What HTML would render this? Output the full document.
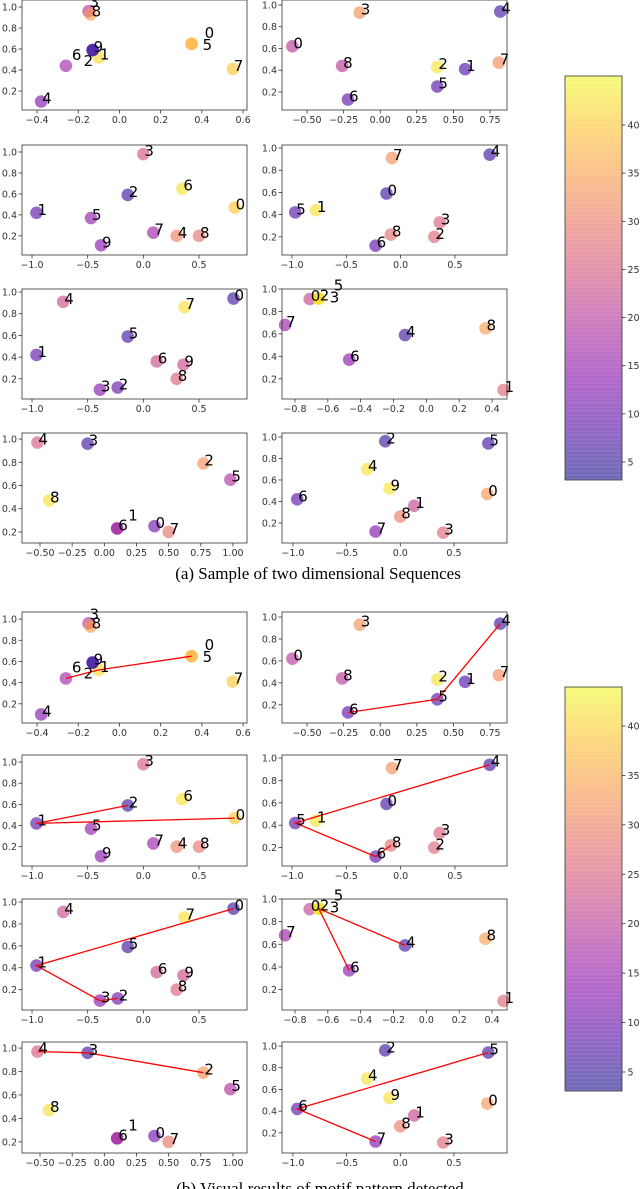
<!DOCTYPE html>
<html><head><meta charset="utf-8">
<style>
html,body{margin:0;padding:0;background:#fff;}
svg{display:block;}
.tk{font-family:"DejaVu Sans","Liberation Sans",sans-serif;font-size:9.5px;fill:#333;}
.pl{font-family:"DejaVu Sans","Liberation Sans",sans-serif;font-size:15px;fill:#000;}
.cap{font-family:"Liberation Serif",serif;font-size:17px;fill:#000;}
</style></head>
<body>
<svg id="fig" width="640" height="1189" viewBox="0 0 640 1189" xmlns="http://www.w3.org/2000/svg">
<defs>
<linearGradient id="plasma" x1="0" y1="1" x2="0" y2="0">
<stop offset="0" stop-color="#0d0887"/><stop offset="0.13" stop-color="#4c02a1"/>
<stop offset="0.25" stop-color="#7e03a8"/><stop offset="0.38" stop-color="#a82296"/>
<stop offset="0.5" stop-color="#cc4778"/><stop offset="0.63" stop-color="#e66c5c"/>
<stop offset="0.75" stop-color="#f89540"/><stop offset="0.88" stop-color="#fdc328"/>
<stop offset="1" stop-color="#f0f921"/>
</linearGradient>
</defs>
<text class="cap" x="318" y="579" text-anchor="middle">(a) Sample of two dimensional Sequences</text>
<text class="cap" x="320" y="1194" text-anchor="middle">(b) Visual results of motif pattern detected</text>
</svg>
<script>
// ---- data ----
const panelX = [
  [0.35,-0.10,-0.13,-0.15,-0.38,0.35,-0.26,0.55,-0.14,-0.13],
  [-0.60,0.58,0.39,-0.14,0.82,0.39,-0.22,0.81,-0.26],
  [0.82,-0.96,-0.14,0.00,0.30,-0.47,0.35,0.09,0.50,-0.38],
  [-0.13,-0.78,0.31,0.36,0.82,-0.97,-0.23,-0.08,-0.09],
  [0.81,-0.96,-0.23,-0.39,-0.72,-0.14,0.12,0.37,0.30,0.36],
  [-0.71,0.47,-0.655,-0.655,-0.13,-0.655,-0.47,-0.86,0.36],
  [0.39,0.10,0.77,-0.13,-0.52,0.98,0.10,0.50,-0.43],
  [0.81,0.13,-0.14,0.40,-0.31,0.82,-0.96,-0.23,0.00,-0.10]
];
const panelY = [
  [0.65,0.52,0.59,0.96,0.10,0.65,0.44,0.41,0.93,0.59],
  [0.62,0.41,0.43,0.93,0.94,0.25,0.13,0.47,0.44],
  [0.47,0.42,0.59,0.98,0.20,0.37,0.65,0.23,0.20,0.11],
  [0.59,0.44,0.20,0.33,0.94,0.42,0.12,0.91,0.22],
  [0.94,0.42,0.12,0.10,0.91,0.59,0.36,0.86,0.20,0.33],
  [0.91,0.10,0.915,0.915,0.59,0.915,0.37,0.68,0.65],
  [0.25,0.23,0.79,0.96,0.97,0.65,0.23,0.20,0.47],
  [0.47,0.36,0.96,0.11,0.70,0.94,0.42,0.12,0.26,0.52]
];
const panelVal = [
  [38,42,6,20,13,38,17,40,35,6],
  [20,7,43,33,6,8,9,32,20],
  [40,9,6,25,31,15,43,16,29,14],
  [6,43,27,26,6,8,9,33,28],
  [6,9,10,13,23,6,23,43,26,23],
  [22,27,43,43,6,43,14,16,35],
  [11,17,33,6,25,19,17,29,43],
  [34,22,6,27,43,6,9,12,30,43]
];
const panelLabels = [
  ["0","1","2","3","4","5","6","7","8","9"],
  ["0","1","2","3","4","5","6","7","8"],
  ["0","1","2","3","4","5","6","7","8","9"],
  ["0","1","2","3","4","5","6","7","8"],
  ["0","1","2","3","4","5","6","7","8","9"],
  ["0","1","2","3","4","5","6","7","8"],
  ["0","1","2","3","4","5","6","7","8"],
  ["0","1","2","3","4","5","6","7","8","9"]
];
const motifPaths = [[6,1,0],[6,5,4],[2,1,0],[8,6,5,4],[2,3,1,0],[6,2,4],[4,3,2],[7,6,5]];
const xTickVals = [
  [-0.4,-0.2,0,0.2,0.4,0.6],[-0.5,-0.25,0,0.25,0.5,0.75],[-1,-0.5,0,0.5],[-1,-0.5,0,0.5],
  [-1,-0.5,0,0.5],[-0.8,-0.6,-0.4,-0.2,0,0.2,0.4],[-0.5,-0.25,0,0.25,0.5,0.75,1],[-1,-0.5,0,0.5]
];
const xTickDecimals = [1,2,1,1,1,1,2,1];
const yTickVals = [0.2,0.4,0.6,0.8,1.0];
const cbTickVals = [5,10,15,20,25,30,35,40];
// axis limits per panel
const xLims = [[-0.473,0.619],[-0.671,0.866],[-1.09,0.931],[-1.092,0.979],[-1.09,0.931],[-0.879,0.491],[-0.64,1.109],[-1.102,0.994]];
const yLims = [[0.019,1.067],[0.034,1.046],[0.017,1.067],[0.036,1.027],[0.014,1.028],[0.02,1.0],[0.105,1.052],[0.014,1.037]];

// ---- layout ----
const colX = [[22,247],[282,507]];
const topRows = [0,145,289,433], botRows = [612,755,899,1042];
const labelOff = {0:{0:[12,-8],2:[-10,14],3:[0,-6],5:[10,4],6:[5,-8]},5:{3:[10,2],5:[14,-10]},6:{1:[10,-10]}};
const NS = "http://www.w3.org/2000/svg";
const svg = document.getElementById('fig');
function mk(tag, attrs, parent){const e=document.createElementNS(NS,tag);for(const k in attrs)e.setAttribute(k,attrs[k]);(parent||svg).appendChild(e);return e;}
const stops=[[13,8,135],[76,2,161],[126,3,168],[168,34,150],[204,71,120],[230,108,92],[248,149,64],[253,195,40],[240,249,33]];
function plasma(t){t=Math.max(0,Math.min(1,t));const p=t*(stops.length-1),i=Math.min(stops.length-2,Math.floor(p)),f=p-i;
  const c=stops[i].map((v,k)=>v+(stops[i+1][k]-v)*f);return 'rgb('+c.map(Math.round).join(',')+')';}
function fmt(v,d){const s=Math.abs(v).toFixed(d);return (v<0?'\u2212':'')+s;}

function panel(p, top, h, withPaths){
  const [x0,x1]=colX[p%2];
  const g=mk('g',{});
  
  
  const sx=v=>x0+(v-xLims[p][0])/(xLims[p][1]-xLims[p][0])*(x1-x0);
  const sy=v=>top+h-(v-yLims[p][0])/(yLims[p][1]-yLims[p][0])*h;
  // ticks
  xTickVals[p].forEach(v=>{const x=sx(v);
    mk('line',{x1:x,x2:x,y1:top+h,y2:top+h+3.5,stroke:'#333','stroke-width':0.8},g);
    const t=mk('text',{class:'tk',x:x,y:top+h+13,'text-anchor':'middle'},g);t.textContent=fmt(v,xTickDecimals[p]);
    
    
  });
  yTickVals.forEach(v=>{const y=sy(v);if(y<top-1)return;
    mk('line',{x1:x0-3.5,x2:x0,y1:y,y2:y,stroke:'#333','stroke-width':0.8},g);
    const t=mk('text',{class:'tk',x:x0-5,y:y+3.5,'text-anchor':'end'},g);t.textContent=v.toFixed(1);
    
    
  });
  // points
  const X=panelX[p],Y=panelY[p];
  X.forEach((v,i)=>{
    const c=mk('circle',{cx:sx(v),cy:sy(Y[i]),r:6.3,fill:plasma((panelVal[p][i]-3)/(45.5-3)),'fill-opacity':0.6},g);
    
    
  });
  if(withPaths){
    const pts=motifPaths[p].map(i=>sx(X[i]).toFixed(1)+','+sy(Y[i]).toFixed(1)).join(' ');
    const pl=mk('polyline',{points:pts,fill:'none',stroke:'#ff0000','stroke-width':1.3},g);
    
    
  }
  X.forEach((v,i)=>{
    const o=(labelOff[p]&&labelOff[p][i])||[0,0];
    const t=mk('text',{class:'pl',x:sx(v)+1+o[0],y:sy(Y[i])+2+o[1]},g);t.textContent=panelLabels[p][i];
    
    
  });
  const fr=mk('rect',{x:x0,y:top,width:x1-x0,height:h,fill:'none',stroke:'#333','stroke-width':0.8},g);
  
  
}
for(let p=0;p<8;p++){panel(p,topRows[Math.floor(p/2)],110,false);}
for(let p=0;p<8;p++){panel(p,botRows[Math.floor(p/2)],111,true);}

function colorbar(top,bot,y5,y40,name){
  const g=mk('g',{});
  
  
  mk('rect',{x:565,y:top,width:57,height:bot-top,fill:'url(#plasma)','fill-opacity':0.6},g);
  for(let y=top+3;y<bot;y+=4){mk('line',{x1:565,x2:622,y1:y,y2:y,stroke:'#fff','stroke-opacity':0.12,'stroke-width':1},g);}
  mk('rect',{x:565,y:top,width:57,height:bot-top,fill:'none',stroke:'#333','stroke-width':0.8},g);
  const per=(y5-y40)/35;
  cbTickVals.forEach(v=>{const y=y5-(v-5)*per;
    mk('line',{x1:622,x2:625.5,y1:y,y2:y,stroke:'#333','stroke-width':0.8},g);
    const t=mk('text',{class:'tk',x:627.5,y:y+3.5},g);t.textContent=v;
    
    
  });
}
colorbar(76,480,462,125,'colorbar-a');
colorbar(687,1091,1072,726,'colorbar-b');
</script>
</body></html>
